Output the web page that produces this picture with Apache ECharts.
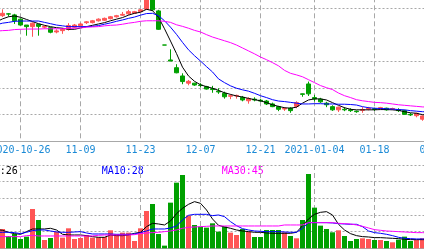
<!DOCTYPE html>
<html><head><meta charset="utf-8">
<script src="https://cdn.jsdelivr.net/npm/echarts@6/dist/echarts.min.js"></script>
<style>
html,body{margin:0;padding:0;overflow:hidden;width:424px;height:249px;background:#fff}
#c{position:absolute;left:-20px;top:-30px;width:500px;height:300px}
</style>
</head><body><div id="c"></div>
<script>
// trading days (category axis); the last four carry no data, they only pad the axis
const dates = [
'2020-10-19','2020-10-20','2020-10-21','2020-10-22','2020-10-23',
'2020-10-26','2020-10-27','2020-10-28','2020-10-29','2020-10-30',
'2020-11-02','2020-11-03','2020-11-04','2020-11-05','2020-11-06',
'2020-11-09','2020-11-10','2020-11-11','2020-11-12','2020-11-13',
'2020-11-16','2020-11-17','2020-11-18','2020-11-19','2020-11-20',
'2020-11-23','2020-11-24','2020-11-25','2020-11-26','2020-11-27',
'2020-11-30','2020-12-01','2020-12-02','2020-12-03','2020-12-04',
'2020-12-07','2020-12-08','2020-12-09','2020-12-10','2020-12-11',
'2020-12-14','2020-12-15','2020-12-16','2020-12-17','2020-12-18',
'2020-12-21','2020-12-22','2020-12-23','2020-12-24','2020-12-25',
'2020-12-28','2020-12-29','2020-12-30','2020-12-31',
'2021-01-04','2021-01-05','2021-01-06','2021-01-07','2021-01-08',
'2021-01-11','2021-01-12','2021-01-13','2021-01-14','2021-01-15',
'2021-01-18','2021-01-19','2021-01-20','2021-01-21','2021-01-22',
'2021-01-25','2021-01-26','2021-01-27','2021-01-28','2021-01-29',
'2021-02-01','2021-02-02','2021-02-03','2021-02-04','2021-02-05'];

const opens = [48.1,47.2,47.1,47.8,47.4,45.8,43.6,43.0,43.9,42.8,
42.6,41.0,41.5,42.0,42.8,43.3,44.5,44.5,45.2,45.4,
46.0,46.7,47.3,47.8,48.0,48.6,49.5,53.8,48.9,36.1,
30.5,27.6,24.5,21.8,21.8,21.1,20.5,19.7,18.8,18.0,
16.9,17.0,16.5,15.2,15.8,15.4,15.1,14.0,13.0,12.1,
12.4,13.1,17.8,21.5,16.4,15.8,14.3,13.0,11.8,12.0,
11.8,11.3,11.6,12.1,12.2,12.4,12.4,12.1,11.8,11.5,
10.1,9.6,8.3,9.5,9.3];
const closes = [47.4,47.9,48.0,47.7,45.2,43.6,43.0,44.3,43.1,43.1,
40.9,41.4,42.0,43.4,43.6,44.0,44.8,45.2,45.8,46.1,
46.7,47.1,47.6,48.6,48.6,49.3,53.8,49.3,42.0,36.1,
30.1,25.7,22.4,22.5,21.1,20.9,19.6,19.4,18.5,16.7,
17.1,17.2,15.5,16.0,15.5,15.1,14.0,13.0,12.0,12.3,
11.5,14.5,17.6,17.8,15.9,14.8,13.7,11.8,12.8,11.8,
11.5,11.1,11.9,12.4,12.0,12.6,11.8,12.3,11.5,10.1,
9.9,10.5,9.5,9.3,9.6];
const lows = [46.8,47.0,46.6,46.8,44.0,43.4,39.6,39.2,39.6,42.3,
40.5,40.5,40.3,41.5,42.5,42.9,44.0,44.2,44.9,45.1,
45.7,46.4,47.0,47.4,47.8,48.4,49.3,48.9,41.8,36.1,
30.1,25.5,21.4,21.0,20.8,20.3,19.4,18.2,17.8,16.0,
15.8,16.0,15.0,14.1,15.0,14.8,13.6,12.8,11.3,11.4,
10.7,12.4,16.7,17.0,14.9,14.4,12.8,11.4,11.0,11.3,
11.0,10.7,10.7,11.6,11.4,11.9,11.5,11.8,11.0,10.0,
9.5,9.0,7.7,9.0,9.0];
const highs = [48.5,48.3,49.5,48.1,47.8,46.1,43.6,44.6,44.0,43.4,
42.7,42.0,42.5,44.3,44.0,44.4,45.1,45.5,46.1,46.4,
47.0,47.4,48.5,49.3,48.9,49.4,54.5,54.5,49.3,36.1,
34.5,28.9,25.5,23.0,21.9,21.8,20.8,20.8,19.9,18.6,
17.6,17.5,17.0,16.5,16.5,15.9,15.5,14.5,13.3,12.8,
12.8,15.0,17.9,22.4,17.4,16.3,14.8,13.5,13.0,12.8,
12.4,11.5,12.8,12.9,12.6,12.9,12.6,12.6,12.4,11.8,
10.6,10.7,9.7,9.8,9.9];

const ma5 = [44.4,44.8,45.9,46.7,47.0,46.5,45.7,44.9,44.1,43.5,
43.0,42.6,42.4,42.0,42.0,42.5,43.0,43.5,44.0,44.5,
45.2,45.8,46.4,47.3,48.0,48.4,49.5,49.0,46.5,42.2,
37.6,32.9,27.8,24.5,22.5,21.2,20.5,19.9,19.1,18.2,
17.6,17.0,16.6,16.1,15.6,15.2,14.5,13.7,13.1,12.6,
12.4,12.8,14.3,15.5,15.9,15.9,15.5,14.5,13.5,12.6,
12.0,11.8,11.8,11.8,11.8,11.9,11.9,11.8,11.6,11.1,
10.7,10.5,10.0,9.7,9.5];
const ma10 = [43.4,43.7,44.3,44.6,45.0,45.1,45.1,45.1,45.1,44.6,
44.1,43.6,43.3,43.0,43.0,43.0,43.0,43.1,43.4,43.9,
44.4,45.0,45.5,46.1,46.6,47.3,47.9,48.0,47.1,45.2,
42.8,40.1,37.1,34.3,32.1,30.1,28.0,26.0,23.4,22.0,
20.8,19.9,19.3,18.8,18.0,17.1,16.4,15.6,15.1,14.9,
14.6,14.3,14.0,14.0,14.1,14.1,14.0,14.0,13.9,13.9,
13.8,13.6,13.0,12.6,12.4,12.3,12.2,12.1,11.9,11.8,
11.5,11.3,11.1,11.0,10.9];
const ma30 = [41.1,41.3,41.5,41.6,41.9,42.0,42.1,42.1,42.1,42.2,
42.2,42.2,42.2,42.4,42.4,42.5,42.8,42.9,43.0,43.3,
43.5,43.6,43.9,44.3,44.6,45.0,45.2,45.2,45.2,45.0,
44.6,43.7,43.1,42.4,41.6,41.0,40.0,39.1,38.4,37.7,
37.0,36.1,35.0,33.9,32.8,31.6,30.6,29.5,28.3,26.6,
25.5,24.9,24.2,23.1,22.0,20.9,20.1,19.4,18.1,17.1,
16.4,15.6,15.2,14.9,14.6,14.5,14.3,14.0,13.7,13.5,
13.3,13.1,12.9,12.8,12.7];

const volumes = [45,50,58,37,43,28,35,118,85,25,
31,50,32,60,28,31,40,32,33,34,
54,42,47,47,22,60,112,133,43,8,
137,197,220,98,70,65,62,75,50,65,
47,40,58,50,34,34,55,55,55,48,
37,30,85,223,122,68,58,48,54,37,
22,28,30,28,25,25,22,18,26,35,
22,25,30,25,25];
const volMa5 = [57,56,54,48,44,42,50,58,58,58,
60,55,42,40,40,40,38,35,33,33,
40,38,38,40,45,48,65,75,73,70,
82,104,120,132,140,135,115,88,69,64,
60,55,52,50,48,48,46,45,45,45,
45,48,68,88,102,108,110,100,72,55,
44,38,35,34,32,32,31,30,29,27,
26,26,26,26,26];
const volMa10 = [47,48,48,48,47,44,48,53,55,55,
52,49,48,48,49,50,46,43,43,43,
43,42,42,42,43,47,52,58,58,58,
61,67,85,99,102,102,102,98,100,95,
80,68,59,55,52,51,50,50,50,49,
48,48,60,77,77,77,77,76,74,73,
72,72,65,52,47,45,42,38,33,30,
29,28,28,28,28];
const volMa30 = [35,35,35,35,35,35,38,39,37,37,
37,37,37,37,37,37,37,37,39,40,
40,40,40,40,41,44,46,47,48,50,
52,55,60,63,64,65,66,67,67,67,
67,67,67,67,67,67,67,67,67,70,
70,70,70,77,77,77,77,77,75,74,
73,70,66,61,56,54,52,51,50,49,
48,47,47,46,45];

const tickDates = ['2020-10-26','2020-11-09','2020-11-23','2020-12-07','2020-12-21','2021-01-04','2021-01-18','2021-02-01'];
const tickTexts = ['2020-10-26','11-09','11-23','12-07','12-21','2021-01-04','01-18','02-01'];

const legendNames = ['MA5','MA10','MA30'];
const legendValues = [26,28,45];

const UP = '#ff5555', DOWN = '#00a000';
const GRID_GRAY = '#a8a8a8';
const MA_COLORS = ['#000000','#0000ff','#ff00ff'];
const FONT = 'DejaVu Sans Mono';

const candleData = opens.map((o,i)=>[o, closes[i], lows[i], highs[i]]);
function isUp(i){
  if (closes[i] > opens[i]) return true;
  if (closes[i] < opens[i]) return false;
  return i > 0 ? closes[i] >= closes[i-1] : true;
}
const tickSet = new Set(tickDates);
const onTick = (idx, val) => tickSet.has(val);

const chart = echarts.init(document.getElementById('c'), null, {renderer:'canvas'});

const gridLeft = 10.5, gridWidth = 6 * (dates.length - 1);

const vSplit = {show:true, interval:onTick, lineStyle:{color:GRID_GRAY, type:[5,3], width:1}};

chart.setOption({
  animation:false,
  backgroundColor:'#fff',
  grid:[
    {left:gridLeft, width:gridWidth, top:11.3, height:160},
    {left:gridLeft, width:gridWidth, top:195, height:83.3}
  ],
  xAxis:[
    {type:'category', gridIndex:0, data:dates, boundaryGap:false,
     axisLine:{show:true, lineStyle:{color:GRID_GRAY, width:1}},
     axisTick:{show:false},
     axisLabel:{show:true, interval:onTick, color:'#1a8ad6', fontFamily:FONT, fontSize:10, margin:4,
       formatter:(v)=>tickTexts[tickDates.indexOf(v)]},
     splitLine:vSplit},
    {type:'category', gridIndex:1, data:dates, boundaryGap:false, position:'top',
     axisLine:{show:true, lineStyle:{color:GRID_GRAY, width:1}},
     axisTick:{show:false}, axisLabel:{show:false},
     splitLine:vSplit}
  ],
  yAxis:[
    {type:'value', gridIndex:0, min:0, max:60, interval:10,
     axisLine:{show:false}, axisTick:{show:false}, axisLabel:{show:false},
     splitLine:{show:true, lineStyle:{color:[GRID_GRAY,GRID_GRAY,GRID_GRAY,GRID_GRAY,'rgba(0,0,0,0)',GRID_GRAY,GRID_GRAY], type:[2,2], width:1}}},
    {type:'value', gridIndex:1, min:0, max:250, interval:50,
     axisLine:{show:false}, axisTick:{show:false}, axisLabel:{show:false},
     splitLine:{show:true, lineStyle:{color:GRID_GRAY, type:[2,2], width:1}}}
  ],
  graphic: legendNames.map((n,k)=>({
    type:'text', left: 1.7 + 120*k, top:196, silent:true,
    style:{text: n + ':' + legendValues[k], fill: MA_COLORS[k], font: '10px "' + FONT + '"'}
  })),
  series:[
    {type:'candlestick', xAxisIndex:0, yAxisIndex:0, data:candleData, barWidth:4,
     itemStyle:{color:UP, color0:DOWN, borderColor:UP, borderColor0:DOWN, borderWidth:1}},
    {type:'line', xAxisIndex:0, yAxisIndex:0, data:ma5, symbol:'none', lineStyle:{color:MA_COLORS[0], width:1}},
    {type:'line', xAxisIndex:0, yAxisIndex:0, data:ma10, symbol:'none', lineStyle:{color:MA_COLORS[1], width:1}},
    {type:'line', xAxisIndex:0, yAxisIndex:0, data:ma30, symbol:'none', lineStyle:{color:MA_COLORS[2], width:1}},
    {type:'bar', xAxisIndex:1, yAxisIndex:1, data:volumes, barWidth:5,
     itemStyle:{color:(p)=> isUp(p.dataIndex) ? UP : DOWN}},
    {type:'line', xAxisIndex:1, yAxisIndex:1, data:volMa5, symbol:'none', lineStyle:{color:MA_COLORS[0], width:1}},
    {type:'line', xAxisIndex:1, yAxisIndex:1, data:volMa10, symbol:'none', lineStyle:{color:MA_COLORS[1], width:1}},
    {type:'line', xAxisIndex:1, yAxisIndex:1, data:volMa30, symbol:'none', lineStyle:{color:MA_COLORS[2], width:1}}
  ]
});
</script></body></html>
